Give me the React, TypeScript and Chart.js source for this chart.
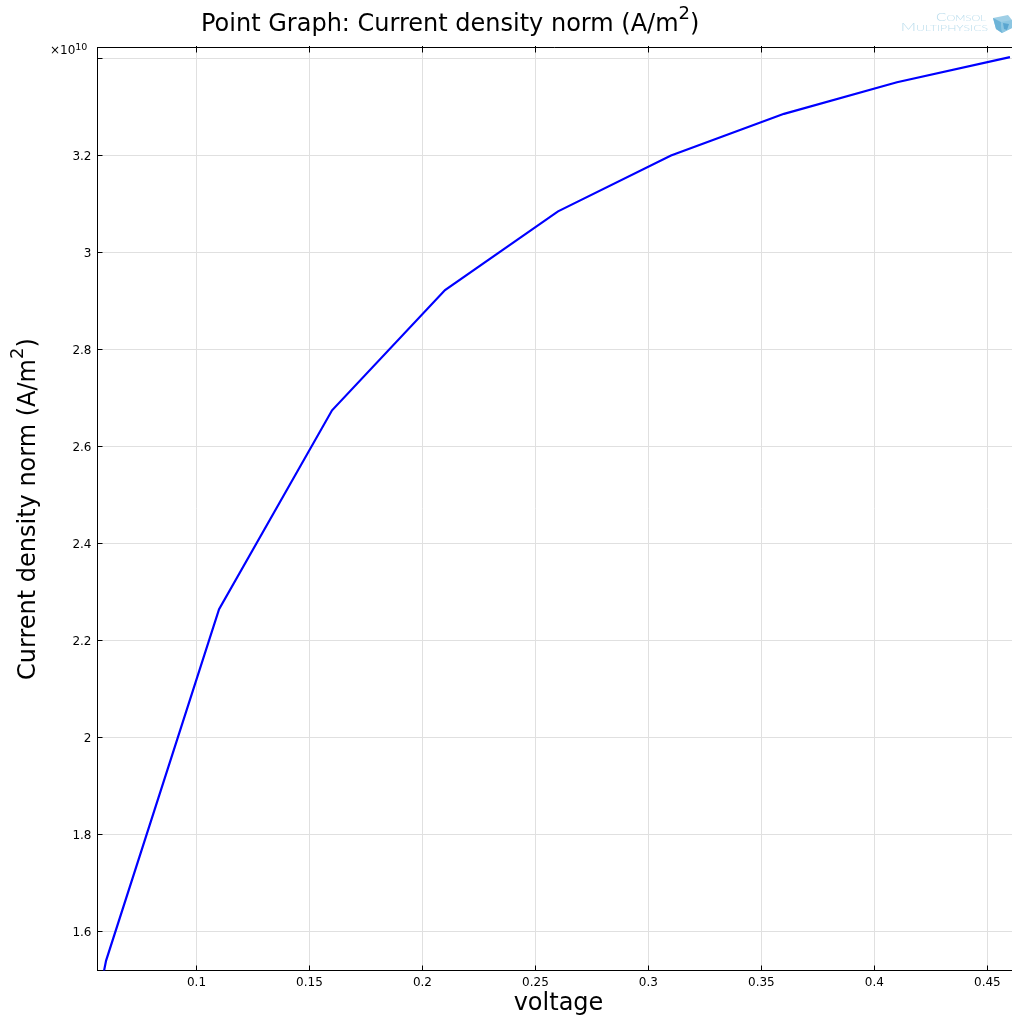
import React, { useEffect, useRef } from "react";
import { Chart, registerables } from "chart.js";

Chart.register(...registerables);

const voltage = [0.05, 0.06, 0.11, 0.16, 0.21, 0.26, 0.31, 0.36, 0.41, 0.46];
const currentDensity = [1.31, 1.541, 2.265, 2.675, 2.923, 3.085, 3.2, 3.286, 3.351, 3.403];

const titleParts = ["Point Graph: Current density norm (A/m", "2", ")"];
const yTitleParts = ["Current density norm (A/m", "2", ")"];
const xTitleText = "voltage";
const exponentParts = ["\u00d710", "10"];
const logoLines = ["Comsol", "Multiphysics"];
const hiddenYTickLabels = [3.4];

const FONT = '"DejaVu Sans"';
const W = 1012;
const H = 1019;
const LEFT = 97.5;
const TOP = 47.5;
const BOTTOM = 970.5;

function drawSup(
  ctx: CanvasRenderingContext2D,
  parts: string[],
  size: number,
  supSize: number,
  rise: number,
) {
  ctx.textAlign = "left";
  ctx.textBaseline = "alphabetic";
  ctx.font = `${size}px ${FONT}`;
  ctx.fillText(parts[0], 0, 0);
  let x = ctx.measureText(parts[0]).width;
  ctx.font = `${supSize}px ${FONT}`;
  ctx.fillText(parts[1], x, -rise);
  x += ctx.measureText(parts[1]).width;
  if (parts[2]) {
    ctx.font = `${size}px ${FONT}`;
    ctx.fillText(parts[2], x, 0);
  }
}

const decorations = {
  id: "decorations",
  afterDraw(chart: any) {
    const ctx: CanvasRenderingContext2D = chart.ctx;
    const { left, right, top, bottom } = chart.chartArea;
    const xs = chart.scales.x;
    const ys = chart.scales.y;
    ctx.save();

    // frame and inward ticks
    ctx.strokeStyle = "#000";
    ctx.lineWidth = 1;
    ctx.beginPath();
    ctx.moveTo(left, top);
    ctx.lineTo(right, top);
    xs.ticks.forEach((t: any) => {
      const p = Math.round(xs.getPixelForValue(t.value) - 0.5) + 0.5;
      ctx.moveTo(p, top - 1.5);
      ctx.lineTo(p, top + 5);
      ctx.moveTo(p, bottom);
      ctx.lineTo(p, bottom - 5);
    });
    ys.ticks.forEach((t: any) => {
      const p = Math.round(ys.getPixelForValue(t.value) - 0.5) + 0.5;
      ctx.moveTo(left, p);
      ctx.lineTo(left + 5, p);
    });
    ctx.stroke();

    ctx.fillStyle = "#000";

    // chart title
    ctx.save();
    ctx.translate(201, 31);
    drawSup(ctx, titleParts, 24, 18, 12);
    ctx.restore();

    // y axis title
    ctx.save();
    ctx.translate(35, 680);
    ctx.rotate(-Math.PI / 2);
    drawSup(ctx, yTitleParts, 24, 18, 12);
    ctx.restore();

    // x axis title
    ctx.font = `24px ${FONT}`;
    ctx.textAlign = "center";
    ctx.textBaseline = "alphabetic";
    ctx.fillText(xTitleText, 558.5, 1010);

    // axis multiplier
    ctx.save();
    ctx.translate(50, 54);
    drawSup(ctx, exponentParts, 12, 9.5, 4.5);
    ctx.restore();

    // logo
    ctx.fillStyle = "#b9dcec";
    ctx.textAlign = "right";
    ctx.save();
    ctx.translate(986, 21);
    ctx.scale(1.4, 1);
    ctx.font = `small-caps 300 11px Lato`;
    ctx.fillText(logoLines[0], 0, 0);
    ctx.restore();
    ctx.save();
    ctx.translate(988, 31);
    ctx.scale(1.53, 1);
    ctx.font = `small-caps 300 11px Lato`;
    ctx.fillText(logoLines[1], 0, 0);
    ctx.restore();

    const poly = (pts: number[][], fill: string) => {
      ctx.fillStyle = fill;
      ctx.beginPath();
      pts.forEach(([x, y], i) => (i ? ctx.lineTo(x, y) : ctx.moveTo(x, y)));
      ctx.closePath();
      ctx.fill();
    };
    poly([[993, 18], [1008, 15], [1012, 20], [1012, 28], [1002, 33], [996, 29]], "#9fcfe6");
    poly([[993, 18], [1001, 22], [1002, 33], [996, 29]], "#6db4d8");
    poly([[1001, 22], [1012, 20], [1012, 28], [1002, 33]], "#8cc6e2");
    poly([[1003, 23], [1009, 24], [1007, 30], [1004, 29]], "#5aa6d0");

    ctx.restore();
  },
};

export default function App() {
  const ref = useRef<HTMLCanvasElement | null>(null);

  useEffect(() => {
    const chart = new Chart(ref.current as HTMLCanvasElement, {
      type: "line",
      data: {
        datasets: [
          {
            label: "Current density norm",
            data: voltage.map((v, i) => ({ x: v, y: currentDensity[i] })),
            borderColor: "#0000ff",
            borderWidth: 2.2,
            pointRadius: 0,
            tension: 0,
            fill: false,
          },
        ],
      },
      options: {
        responsive: false,
        animation: false,
        layout: { padding: { top: TOP, left: 0, right: 0, bottom: 0 } },
        plugins: {
          legend: { display: false },
          title: { display: false },
          tooltip: { enabled: false },
        },
        scales: {
          x: {
            type: "linear",
            min: 0.0562,
            max: 0.4609,
            afterFit: (s: any) => {
              s.height = H - BOTTOM;
            },
            grid: { color: "#e0e0e0", lineWidth: 1, drawTicks: false },
            border: { color: "#000", width: 1 },
            ticks: {
              stepSize: 0.05,
              includeBounds: false,
              maxRotation: 0,
              padding: 5,
              color: "#000",
              font: { family: FONT, size: 12 },
              callback: (v: any) => String(parseFloat(Number(v).toFixed(2))),
            },
          },
          y: {
            type: "linear",
            min: 1.5206,
            max: 3.4227,
            afterFit: (s: any) => {
              s.width = LEFT;
            },
            grid: { color: "#e0e0e0", lineWidth: 1, drawTicks: false },
            border: { color: "#000", width: 1 },
            ticks: {
              stepSize: 0.2,
              includeBounds: false,
              padding: 6,
              labelOffset: 1,
              color: "#000",
              font: { family: FONT, size: 12 },
              callback: (v: any) => {
                const n = parseFloat(Number(v).toFixed(2));
                return hiddenYTickLabels.includes(n) ? "" : String(n);
              },
            },
          },
        },
      },
      plugins: [decorations],
    } as any);
    return () => chart.destroy();
  }, []);

  return (
    <div style={{ position: "absolute", left: 0, top: 0, width: W, height: H, background: "#fff" }}>
      <canvas ref={ref} width={W} height={H} style={{ display: "block" }} />
    </div>
  );
}
